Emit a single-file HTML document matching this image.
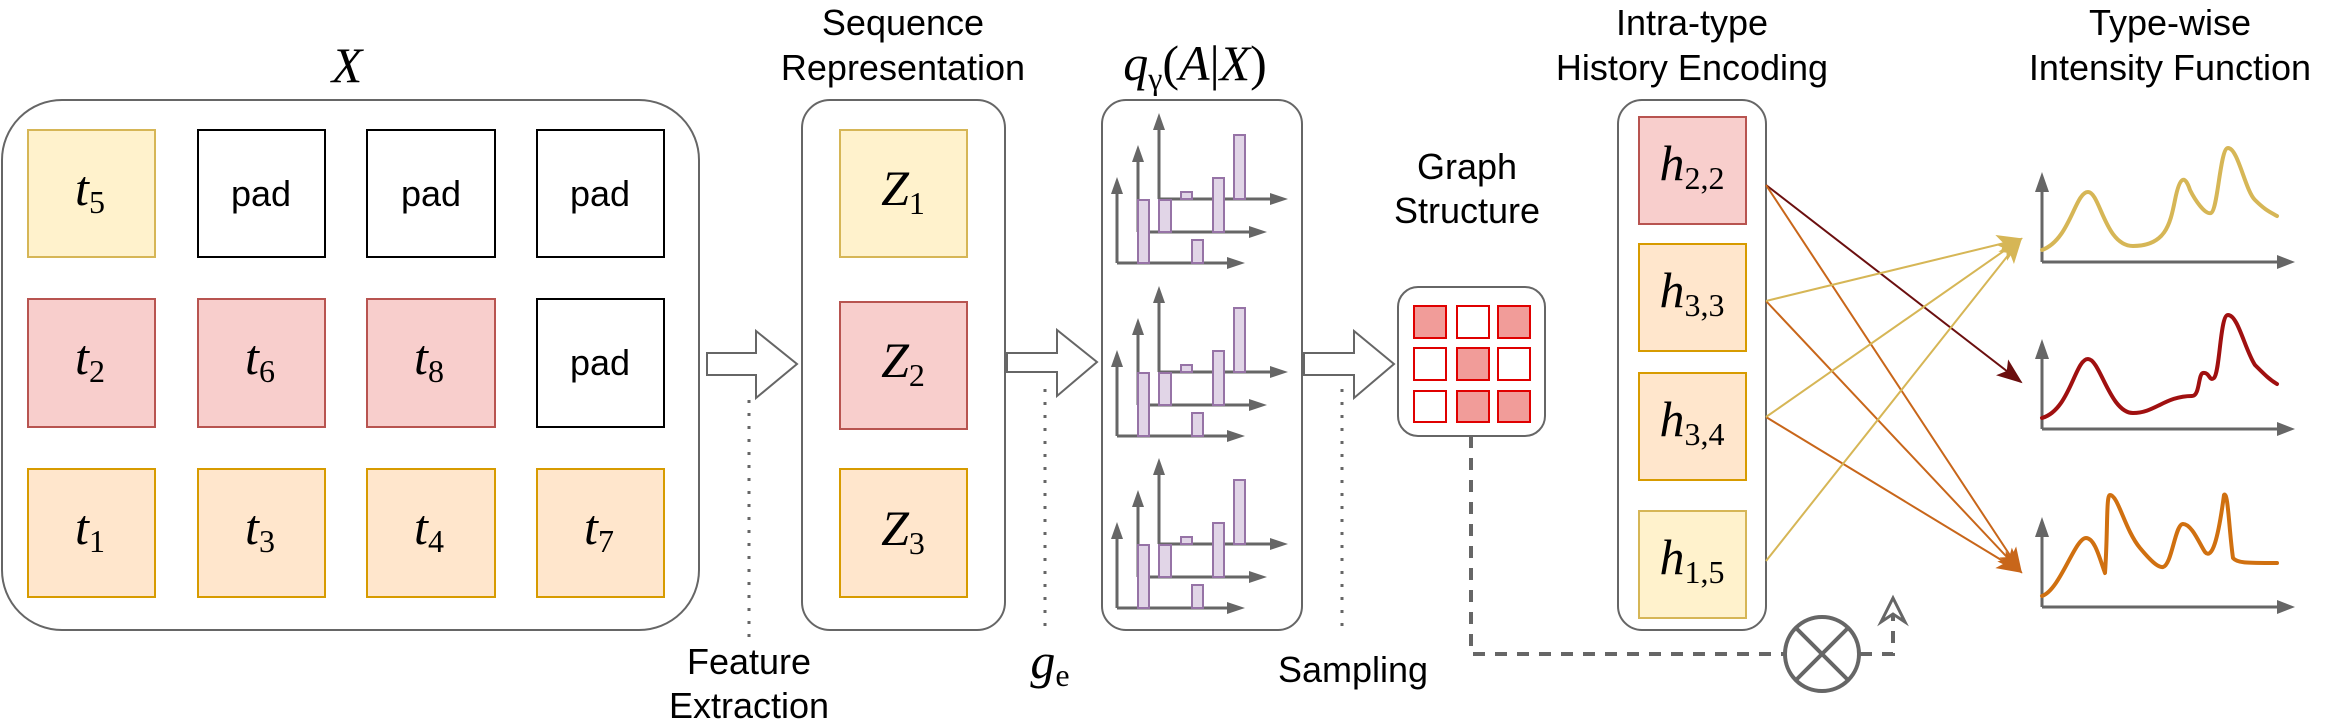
<!DOCTYPE html>
<html><head><meta charset="utf-8"><style>
html,body{margin:0;padding:0;background:#fff;}
svg{display:block;}
.s{font-family:"Liberation Sans",sans-serif;font-size:36px;fill:#000;text-anchor:middle;}
.m{font-family:"Liberation Serif",serif;font-style:italic;font-size:50px;fill:#000;text-anchor:middle;}
.sub{font-style:normal;font-size:32px;}
</style></head><body>
<svg width="2339" height="727" viewBox="0 0 2339 727" xmlns="http://www.w3.org/2000/svg">
<defs>
<marker id="tan" markerWidth="26" markerHeight="20" refX="24" refY="10" orient="auto" markerUnits="userSpaceOnUse"><path d="M0,0 L26,10 L0,20 L6,10 Z" fill="#d6b656"/></marker>
<marker id="dk" markerWidth="26" markerHeight="20" refX="24" refY="10" orient="auto" markerUnits="userSpaceOnUse"><path d="M0,0 L26,10 L0,20 L6,10 Z" fill="#6b0f0f"/></marker>
<marker id="or" markerWidth="26" markerHeight="20" refX="24" refY="10" orient="auto" markerUnits="userSpaceOnUse"><path d="M0,0 L26,10 L0,20 L6,10 Z" fill="#c8661a"/></marker>
<g id="hist">
 <g stroke="#666" stroke-width="3" fill="none">
  <path d="M1159,199 V124 M1159,199 H1274"/>
  <path d="M1138,232 V156 M1138,232 H1253"/>
  <path d="M1117,263 V188 M1117,263 H1231"/>
 </g>
 <g fill="#666">
  <path d="M1159,113 L1153,130 L1165,130 Z"/><path d="M1288,199 L1270,193 L1270,205 Z"/>
  <path d="M1138,145 L1132,162 L1144,162 Z"/><path d="M1267,232 L1249,226 L1249,238 Z"/>
  <path d="M1117,177 L1111,194 L1123,194 Z"/><path d="M1245,263 L1227,257 L1227,269 Z"/>
 </g>
 <g fill="#e1d5e7" stroke="#9673a6" stroke-width="2">
  <rect x="1138" y="200" width="11" height="63"/>
  <rect x="1159" y="200" width="12" height="32"/>
  <rect x="1181" y="192" width="11" height="7"/>
  <rect x="1192" y="240" width="11" height="23"/>
  <rect x="1213" y="178" width="11" height="54"/>
  <rect x="1234" y="135" width="11" height="64"/>
 </g>
</g>
</defs>

<!-- titles -->
<text class="m" x="347" y="82">X</text>
<text class="s" x="903" y="35">Sequence</text>
<text class="s" x="903" y="80">Representation</text>
<text class="m" x="1195" y="80">q<tspan class="sub" font-size="28" dy="9">γ</tspan><tspan dy="-9" font-style="normal">(</tspan>A<tspan font-style="normal">|</tspan>X<tspan font-style="normal">)</tspan></text>
<text class="s" x="1467" y="179">Graph</text>
<text class="s" x="1467" y="223">Structure</text>
<text class="s" x="1692" y="35">Intra-type</text>
<text class="s" x="1692" y="80">History Encoding</text>
<text class="s" x="2170" y="35">Type-wise</text>
<text class="s" x="2170" y="80">Intensity Function</text>

<!-- X box -->
<rect x="2" y="100" width="697" height="530" rx="60" fill="#fff" stroke="#666" stroke-width="2"/>
<g stroke-width="2">
<rect x="28" y="130" width="127" height="127" fill="#fff2cc" stroke="#d6b656"/>
<rect x="198" y="130" width="127" height="127" fill="#fff" stroke="#000"/>
<rect x="367" y="130" width="128" height="127" fill="#fff" stroke="#000"/>
<rect x="537" y="130" width="127" height="127" fill="#fff" stroke="#000"/>
<rect x="28" y="299" width="127" height="128" fill="#f8cecc" stroke="#b85450"/>
<rect x="198" y="299" width="127" height="128" fill="#f8cecc" stroke="#b85450"/>
<rect x="367" y="299" width="128" height="128" fill="#f8cecc" stroke="#b85450"/>
<rect x="537" y="299" width="127" height="128" fill="#fff" stroke="#000"/>
<rect x="28" y="469" width="127" height="128" fill="#ffe6cc" stroke="#d79b00"/>
<rect x="198" y="469" width="127" height="128" fill="#ffe6cc" stroke="#d79b00"/>
<rect x="367" y="469" width="128" height="128" fill="#ffe6cc" stroke="#d79b00"/>
<rect x="537" y="469" width="127" height="128" fill="#ffe6cc" stroke="#d79b00"/>
</g>
<text class="m" x="90" y="205">t<tspan class="sub" dy="8">5</tspan></text>
<text class="s" x="261" y="206" font-size="38">pad</text>
<text class="s" x="431" y="206" font-size="38">pad</text>
<text class="s" x="600" y="206" font-size="38">pad</text>
<text class="m" x="90" y="374">t<tspan class="sub" dy="8">2</tspan></text>
<text class="m" x="260" y="374">t<tspan class="sub" dy="8">6</tspan></text>
<text class="m" x="429" y="374">t<tspan class="sub" dy="8">8</tspan></text>
<text class="s" x="600" y="375" font-size="38">pad</text>
<text class="m" x="90" y="544">t<tspan class="sub" dy="8">1</tspan></text>
<text class="m" x="260" y="544">t<tspan class="sub" dy="8">3</tspan></text>
<text class="m" x="429" y="544">t<tspan class="sub" dy="8">4</tspan></text>
<text class="m" x="599" y="544">t<tspan class="sub" dy="8">7</tspan></text>

<!-- big arrows -->
<g fill="#fff" stroke="#666" stroke-width="2">
<path d="M707,353 H756 V331 L797,364 L756,398 V375 H707 Z"/>
<path d="M1007,353 H1057 V330 L1097,362 L1057,396 V372 H1007 Z"/>
<path d="M1304,353 H1354 V331 L1394,364 L1354,398 V375 H1304 Z"/>
</g>
<g stroke="#666" stroke-width="3" stroke-dasharray="3,10" fill="none">
<path d="M749,400 V642"/>
<path d="M1045,389 V630"/>
<path d="M1342,389 V630"/>
</g>
<text class="s" x="749" y="674">Feature</text>
<text class="s" x="749" y="718">Extraction</text>
<text class="m" x="1050" y="678" font-size="46">g<tspan class="sub" font-style="italic" font-size="30" dy="8">e</tspan></text>
<text class="s" x="1353" y="682">Sampling</text>

<!-- Seq box -->
<rect x="802" y="100" width="203" height="530" rx="28" fill="#fff" stroke="#666" stroke-width="2"/>
<rect x="840" y="130" width="127" height="127" fill="#fff2cc" stroke="#d6b656" stroke-width="2"/>
<rect x="840" y="302" width="127" height="127" fill="#f8cecc" stroke="#b85450" stroke-width="2"/>
<rect x="840" y="469" width="127" height="128" fill="#ffe6cc" stroke="#d79b00" stroke-width="2"/>
<text class="m" x="903" y="205" font-size="54">Z<tspan class="sub" dy="9">1</tspan></text>
<text class="m" x="903" y="377" font-size="54">Z<tspan class="sub" dy="9">2</tspan></text>
<text class="m" x="903" y="545" font-size="54">Z<tspan class="sub" dy="9">3</tspan></text>

<!-- q box -->
<rect x="1102" y="100" width="200" height="530" rx="24" fill="#fff" stroke="#666" stroke-width="2"/>
<use href="#hist"/>
<use href="#hist" y="173"/>
<use href="#hist" y="345"/>

<!-- graph structure -->
<rect x="1398" y="287" width="147" height="149" rx="20" fill="#fff" stroke="#666" stroke-width="2"/>
<g stroke="#e00000" stroke-width="2">
<rect x="1414" y="306" width="32" height="32" fill="#f19c99"/>
<rect x="1457" y="306" width="32" height="32" fill="#fff"/>
<rect x="1498" y="306" width="32" height="32" fill="#f19c99"/>
<rect x="1414" y="348" width="32" height="32" fill="#fff"/>
<rect x="1457" y="348" width="32" height="32" fill="#f19c99"/>
<rect x="1498" y="348" width="32" height="32" fill="#fff"/>
<rect x="1414" y="391" width="32" height="31" fill="#fff"/>
<rect x="1457" y="391" width="32" height="31" fill="#f19c99"/>
<rect x="1498" y="391" width="32" height="31" fill="#f19c99"/>
</g>
<g stroke="#666" stroke-width="4" stroke-dasharray="12,10" fill="none">
<path d="M1471,436 V654 H1785"/>
<path d="M1860,654 H1893 V606"/>
</g>
<path d="M1881,622 L1893,598 L1905,622 L1893,614 Z" fill="#fff" stroke="#666" stroke-width="3"/>
<circle cx="1822" cy="654" r="37" fill="#fff" stroke="#666" stroke-width="4"/>
<path d="M1796,628 L1848,680 M1848,628 L1796,680" stroke="#666" stroke-width="4"/>

<!-- h box -->
<rect x="1618" y="100" width="148" height="530" rx="24" fill="#fff" stroke="#666" stroke-width="2"/>
<rect x="1639" y="117" width="107" height="107" fill="#f8cecc" stroke="#b85450" stroke-width="2"/>
<rect x="1639" y="244" width="107" height="107" fill="#ffe6cc" stroke="#d79b00" stroke-width="2"/>
<rect x="1639" y="373" width="107" height="107" fill="#ffe6cc" stroke="#d79b00" stroke-width="2"/>
<rect x="1639" y="511" width="107" height="107" fill="#fff2cc" stroke="#d6b656" stroke-width="2"/>
<text class="m" x="1692" y="180">h<tspan class="sub" dy="9">2,2</tspan></text>
<text class="m" x="1692" y="307">h<tspan class="sub" dy="9">3,3</tspan></text>
<text class="m" x="1692" y="436">h<tspan class="sub" dy="9">3,4</tspan></text>
<text class="m" x="1692" y="574">h<tspan class="sub" dy="9">1,5</tspan></text>

<!-- connectors -->
<g stroke-width="2" fill="none">
<path d="M1766,185 L2021,382" stroke="#6b0f0f" marker-end="url(#dk)"/>
<path d="M1766,185 L2021,572" stroke="#c8661a" marker-end="url(#or)"/>
<path d="M1766,301 L2021,572" stroke="#c8661a" marker-end="url(#or)"/>
<path d="M1766,417 L2021,572" stroke="#c8661a" marker-end="url(#or)"/>
<path d="M1766,301 L2021,239" stroke="#d6b656" marker-end="url(#tan)"/>
<path d="M1766,417 L2021,239" stroke="#d6b656" marker-end="url(#tan)"/>
<path d="M1766,561 L2021,239" stroke="#d6b656" marker-end="url(#tan)"/>
</g>

<!-- plots -->
<g stroke="#666" stroke-width="3" fill="none">
<path d="M2042,262 V180 M2042,262 H2285" />
<path d="M2042,429 V347 M2042,429 H2285" />
<path d="M2042,607 V525 M2042,607 H2285" />
</g>
<g fill="#666">
<path d="M2042,172 L2035,192 L2049,192 Z"/><path d="M2295,262 L2277,255 L2277,269 Z"/>
<path d="M2042,339 L2035,359 L2049,359 Z"/><path d="M2295,429 L2277,422 L2277,436 Z"/>
<path d="M2042,517 L2035,537 L2049,537 Z"/><path d="M2295,607 L2277,600 L2277,614 Z"/>
</g>
<g fill="none" stroke-width="4" stroke-linejoin="round" stroke-linecap="round">
<path stroke="#d6b656" d="M2042,250 C2070,240 2075,192 2088,192 C2100,192 2105,246 2133,246 C2165,246 2170,225 2175,200 C2180,175 2185,175 2190,190 C2195,200 2205,215 2211,213 C2218,210 2220,148 2228,148 C2238,148 2245,190 2255,200 C2265,210 2270,212 2277,216"/>
<path stroke="#a01010" d="M2042,418 C2070,410 2075,359 2088,359 C2100,359 2110,413 2133,413 C2155,413 2165,396 2192,396 C2200,396 2198,374 2203,373 C2210,372 2209,382 2214,378 C2220,372 2220,315 2228,315 C2238,315 2245,350 2255,365 C2265,375 2270,380 2277,384"/>
<path stroke="#d07010" d="M2042,596 C2060,590 2075,538 2086,538 C2095,538 2100,560 2105,573 C2108,530 2106,495 2110,495 C2118,495 2125,530 2140,548 C2150,560 2158,568 2163,567 C2172,565 2175,524 2183,524 C2192,524 2200,545 2205,552 C2212,560 2218,540 2224,495 C2228,490 2229,530 2233,558 C2237,563 2245,563 2277,563"/>
</g>
</svg>
</body></html>
